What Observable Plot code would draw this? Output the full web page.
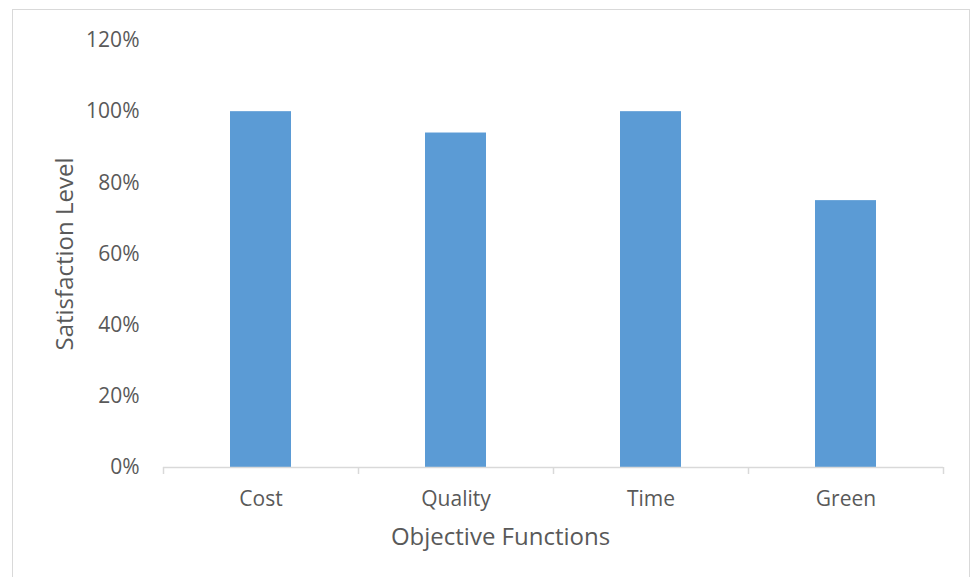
<!DOCTYPE html>
<html>
<head>
<meta charset="utf-8">
<script src="https://cdn.jsdelivr.net/npm/d3@7"></script>
<script src="https://cdn.jsdelivr.net/npm/@observablehq/plot@0.6"></script>
<style>
  html, body { margin: 0; padding: 0; background: #fff; width: 972px; height: 577px; overflow: hidden; }
  #wrap { position: relative; width: 972px; height: 577px; overflow: hidden; }
  #border { position: absolute; left: 12px; top: 9px; width: 958px; height: 620px; border: 1.5px solid #D9D9D9; box-sizing: border-box; }
  #chart { position: absolute; left: 0; top: 0; }
  svg { font-family: "Open Sans", sans-serif; }
</style>
</head>
<body>
<div id="wrap"><div id="border"></div><div id="chart"></div></div>
<script>
const categories = ["Cost", "Quality", "Time", "Green"];
const satisfaction = [1.00, 0.94, 1.00, 0.75];
const yTicks = [0, 0.2, 0.4, 0.6, 0.8, 1.0, 1.2];
const xTitle = "Objective Functions";
const yTitle = "Satisfaction Level";

const data = categories.map((c, i) => ({category: c, value: satisfaction[i]}));

const textColor = "#595959";
const lineColor = "#D9D9D9";

const W = 972, H = 577, mL = 163, mR = 29, mT = 40, mB = 110;
const half = (W - mL - mR) / categories.length / 2;

const chart = Plot.plot({
  width: W,
  height: H,
  marginLeft: mL,
  marginRight: mR,
  marginTop: mT,
  marginBottom: mB,
  style: {background: "transparent", color: textColor, fontFamily: "'Open Sans', sans-serif"},
  x: {domain: categories, padding: 0, label: null},
  y: {domain: [0, 1.2], label: null},
  marks: [
    Plot.barY(data, {x: "category", y: "value", fill: "#5B9BD5", insetLeft: 67, insetRight: 67}),
    Plot.ruleY([0], {stroke: lineColor, strokeWidth: 1.5}),
    // separator ticks at the left edge of each band and at the right edge of the last band
    Plot.ruleX(categories, {x: d => d, y1: () => 0, y2: () => 0, dx: -half, insetBottom: -7, stroke: lineColor, strokeWidth: 1.5}),
    Plot.ruleX(categories.slice(-1), {x: d => d, y1: () => 0, y2: () => 0, dx: half, insetBottom: -7, stroke: lineColor, strokeWidth: 1.5}),
    Plot.axisY({ticks: yTicks, tickFormat: d3.format(".0%"), tickSize: 0, tickPadding: 24, fontSize: 21, fill: textColor, label: null}),
    Plot.axisX({tickSize: 0, tickPadding: 24, fontSize: 21, fill: textColor, label: null}),
    Plot.text([yTitle], {frameAnchor: "left", dx: -98, rotate: -90, fontSize: 24, fill: textColor, textAnchor: "middle", lineAnchor: "middle"}),
    Plot.text([xTitle], {frameAnchor: "bottom", dx: -53, dy: 70, fontSize: 24, fill: textColor, textAnchor: "middle", lineAnchor: "middle"})
  ]
});
document.getElementById("chart").appendChild(chart);
</script>
</body>
</html>
